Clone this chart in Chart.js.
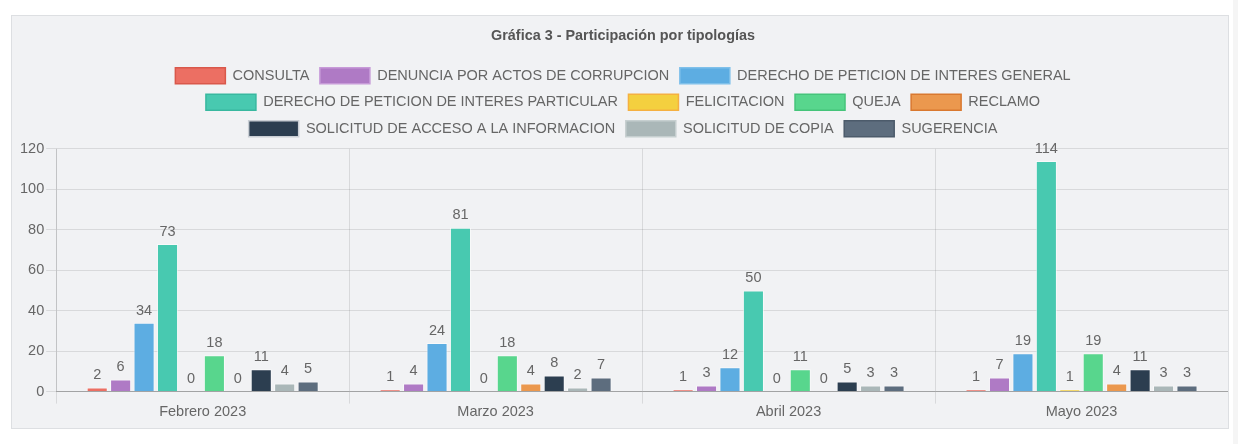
<!DOCTYPE html>
<html>
<head>
<meta charset="utf-8">
<script src="https://cdn.jsdelivr.net/npm/chart.js@4/dist/chart.umd.min.js"></script>
<style>
  html, body { margin: 0; padding: 0; background: #ffffff; width: 1238px; height: 444px; overflow: hidden; }
  #box { position: absolute; left: 11px; top: 15px; width: 1216px; height: 412px; background: #f1f2f4; border: 1px solid #dddfe2; }
  #strip { position: absolute; left: 1233px; top: 0; width: 5px; height: 444px; background: #f5f5f5; }
  #wrap { position: absolute; left: 0; top: 0; width: 1216px; height: 412px; }
</style>
</head>
<body>
<div id="strip"></div>
<div id="box"><div id="wrap"><canvas id="c"></canvas></div></div>
<script>
const categories = ["Febrero 2023", "Marzo 2023", "Abril 2023", "Mayo 2023"];
const seriesNames = [
  "CONSULTA",
  "DENUNCIA POR ACTOS DE CORRUPCION",
  "DERECHO DE PETICION DE INTERES GENERAL",
  "DERECHO DE PETICION DE INTERES PARTICULAR",
  "FELICITACION",
  "QUEJA",
  "RECLAMO",
  "SOLICITUD DE ACCESO A LA INFORMACION",
  "SOLICITUD DE COPIA",
  "SUGERENCIA"
];
const consulta = [2, 1, 1, 1];
const denuncia = [6, 4, 3, 7];
const peticionGeneral = [34, 24, 12, 19];
const peticionParticular = [73, 81, 50, 114];
const felicitacion = [0, 0, 0, 1];
const queja = [18, 18, 11, 19];
const reclamo = [0, 4, 0, 4];
const accesoInformacion = [11, 8, 5, 11];
const solicitudCopia = [4, 2, 3, 3];
const sugerencia = [5, 7, 3, 3];
const yTicks = [0, 20, 40, 60, 80, 100, 120];

const seriesValues = [consulta, denuncia, peticionGeneral, peticionParticular, felicitacion, queja, reclamo, accesoInformacion, solicitudCopia, sugerencia];
const fills = ["#ec6f63", "#af7ac5", "#5dade2", "#48c9b0", "#f4d03f", "#58d68d", "#eb984e", "#2c3e50", "#aab7b8", "#5d6d7e"];
const legendStrokes = ["#d9584b", "#c79ad8", "#7fc0ea", "#38b89f", "#f5b041", "#45c47a", "#d9782f", "#c9ced4", "#c6cfd0", "#4c5b6b"];

const FONT = "'Liberation Sans', Arial, sans-serif";

const valueLabels = {
  id: "valueLabels",
  afterDatasetsDraw(chart) {
    const ctx = chart.ctx;
    ctx.save();
    ctx.font = "14.5px " + FONT;
    ctx.fillStyle = "#666666";
    ctx.textAlign = "center";
    ctx.textBaseline = "bottom";
    chart.data.datasets.forEach((ds, i) => {
      const meta = chart.getDatasetMeta(i);
      if (meta.hidden) return;
      meta.data.forEach((bar, j) => {
        ctx.fillText(String(ds.data[j]), bar.x, bar.y - 5);
      });
    });
    ctx.restore();
  }
};

const legendGap = {
  id: "legendGap",
  beforeUpdate(chart) {
    const lg = chart.legend;
    if (lg && !lg._gapWrapped) {
      const orig = lg.fit;
      lg.fit = function () { orig.call(this); this.height += 2; };
      lg._gapWrapped = true;
    }
  }
};

new Chart(document.getElementById("c"), {
  type: "bar",
  data: {
    labels: categories,
    datasets: seriesNames.map((name, i) => ({
      label: name,
      data: seriesValues[i],
      backgroundColor: fills[i],
      borderColor: "rgba(255,255,255,0.55)",
      borderWidth: 1
    }))
  },
  options: {
    responsive: true,
    maintainAspectRatio: false,
    animation: false,
    layout: { padding: { left: 6, right: 0, top: 3, bottom: 7 } },
    plugins: {
      title: {
        display: true,
        text: "Gráfica 3 - Participación por tipologías",
        color: "#555555",
        font: { family: FONT, size: 14.4, weight: "bold" },
        padding: { top: 8, bottom: 13 }
      },
      legend: {
        position: "top",
        labels: {
          color: "#666666",
          font: { family: FONT, size: 14.5 },
          boxWidth: 50,
          boxHeight: 16,
          padding: 10.5,
          generateLabels(chart) {
            return chart.data.datasets.map((ds, i) => ({
              text: ds.label,
              fillStyle: fills[i],
              strokeStyle: legendStrokes[i],
              lineWidth: 1.5,
              hidden: !chart.isDatasetVisible(i),
              datasetIndex: i,
              fontColor: "#666666"
            }));
          }
        }
      },
      tooltip: { enabled: false }
    },
    scales: {
      x: {
        grid: { color: "rgba(0,0,0,0.1)", tickLength: 12, offset: true },
        border: { color: "rgba(0,0,0,0.25)" },
        ticks: { color: "#666666", font: { family: FONT, size: 14.5 }, padding: 0 }
      },
      y: {
        min: 0,
        max: 120,
        afterBuildTicks(axis) { axis.ticks = yTicks.map(v => ({ value: v })); },
        grid: { color: "rgba(0,0,0,0.1)", tickLength: 10 },
        border: { color: "rgba(0,0,0,0.1)" },
        ticks: { color: "#666666", font: { family: FONT, size: 14.5 }, padding: 2 }
      }
    }
  },
  plugins: [legendGap, valueLabels]
});
</script>
</body>
</html>
